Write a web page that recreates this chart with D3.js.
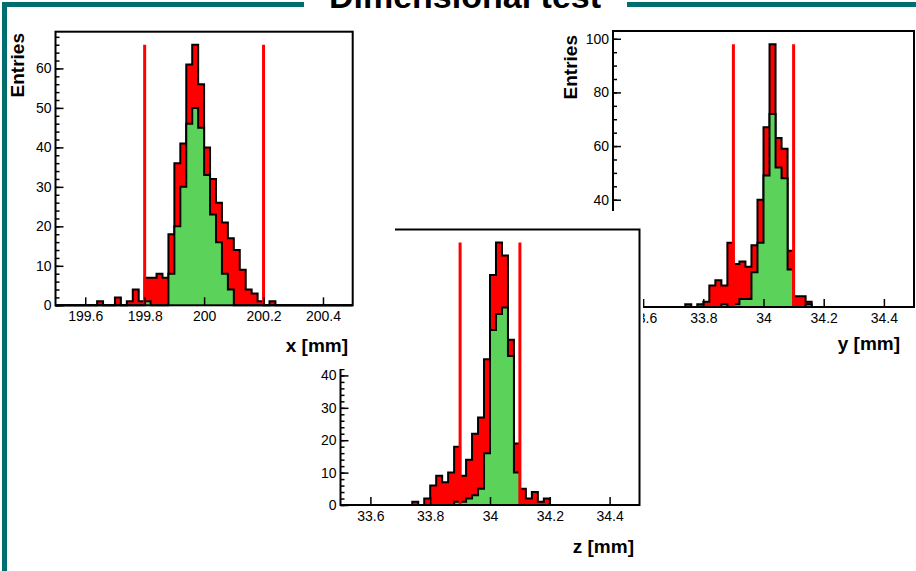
<!DOCTYPE html>
<html><head><meta charset="utf-8">
<script src="https://cdn.jsdelivr.net/npm/d3@7"></script>
<style>
body{margin:0;background:#fff}
text{font-family:"Liberation Sans",Arial,Helvetica,sans-serif}
</style>
</head><body>
<svg id="c" width="916" height="571"></svg>
<script>
// ---------------- data ----------------
const title = "Dimensional test";
const xRange = [199.5, 200.5];
const yRange = [33.5, 34.5];
const zRange = [33.5, 34.5];

// 50 bins each: all measured pieces (red) and pieces passing (green)
const xTotal  = [0,0,0,0,0,0,0,1,0,0, 2,0,1,4,1,7,7,8,7,18, 36,41,61,66,56,40,32,26,21,17, 14,9,4,3,1,0,1,0,0,0, 0,0,0,0,0,0,0,0,0,0];
const xPassed = [0,0,0,0,0,0,0,0,0,0, 0,0,0,0,0,1,0,0,0,8, 20,30,46,50,45,33,23,16,8,4, 0,0,0,0,0,0,0,0,0,0, 0,0,0,0,0,0,0,0,0,0];

const yTotal  = [0,0,0,0,0,0,0,0,0,0, 0,0,1,0,1,2,8,10,8,24, 16,17,15,23,40,67,98,63,59,21, 4,4,2,0,0,0,0,0,0,0, 0,0,0,0,0,0,0,0,0,0];
const yPassed = [0,0,0,0,0,0,0,0,0,0, 0,0,0,0,0,0,0,0,1,0, 1,3,3,13,24,49,72,52,48,14, 0,0,1,0,0,0,0,0,0,0, 0,0,0,0,0,0,0,0,0,0];

const zTotal  = [0,0,0,0,0,0,0,0,0,0, 0,0,1,0,2,6,9,7,10,18, 9,14,22,27,45,71,81,77,51,19, 5,2,4,1,2,0,0,0,0,0, 0,0,0,0,0,0,0,0,0,0];
const zPassed = [0,0,0,0,0,0,0,0,0,0, 0,0,0,0,0,0,0,0,0,1, 1,2,3,5,16,54,59,61,46,10, 0,0,0,0,0,0,0,0,0,0, 0,0,0,0,0,0,0,0,0,0];

const xCuts = [199.8, 200.2];
const yCuts = [33.9, 34.1];
const zCuts = [33.9, 34.1];

const xAxisTicks  = [199.6, 199.8, 200, 200.2, 200.4];
const yzAxisTicks = [33.6, 33.8, 34, 34.2, 34.4];
const xEntryTicks = [0, 10, 20, 30, 40, 50, 60];
const yEntryTicks = [0, 20, 40, 60, 80, 100];
const zEntryTicks = [0, 10, 20, 30, 40, 50, 60, 70, 80];
// labels of the hidden parts of the overlapped pads are not drawn
const yEntryLabelled = [40, 60, 80, 100];
const zEntryLabelled = [0, 10, 20, 30, 40];

const xLabel = "x [mm]", yLabel = "y [mm]", zLabel = "z [mm]", entriesLabel = "Entries";

// ---------------- drawing ----------------
const svg = d3.select("#c");
const TEAL = "#006e6e", RED = "#ff0000", GREEN = "#5bd35b";

svg.append("rect").attr("width", 916).attr("height", 571).attr("fill", "#fff");
// canvas border
svg.append("rect").attr("x", 2).attr("y", 2).attr("width", 5).attr("height", 569).attr("fill", TEAL);
svg.append("rect").attr("x", 2).attr("y", 2).attr("width", 914).attr("height", 5).attr("fill", TEAL);
// title pave
svg.append("rect").attr("x", 304).attr("y", 0).attr("width", 323).attr("height", 10).attr("fill", "#fff");
svg.append("text").attr("x", 465).attr("y", 7.5).attr("text-anchor", "middle")
  .attr("font-size", 34).attr("font-weight", "bold").text(title);

function panel(o) {
  const g = svg.append("g");
  if (o.cover) g.append("rect").attr("x", o.cover[0]).attr("y", o.cover[1])
      .attr("width", o.cover[2] - o.cover[0]).attr("height", o.cover[3] - o.cover[1]).attr("fill", "#fff");
  const x = d3.scaleLinear().domain(o.range).range([o.l, o.r]);
  const maxV = d3.max(o.total);
  const y = d3.scaleLinear().domain([0, maxV * 1.05]).range([o.b, o.t]);
  const n = o.total.length, bw = (o.range[1] - o.range[0]) / n;
  const pts = arr => {
    const p = [[o.range[0], 0]];
    arr.forEach((v, i) => { p.push([o.range[0] + i * bw, v]); p.push([o.range[0] + (i + 1) * bw, v]); });
    p.push([o.range[1], 0]);
    return p;
  };
  const area = d3.area().x(d => x(d[0])).y0(y(0)).y1(d => y(d[1]));
  const line = d3.line().x(d => x(d[0])).y(d => y(d[1]));
  [[o.total, RED], [o.passed, GREEN]].forEach(([arr, col]) => {
    g.append("path").attr("d", area(pts(arr))).attr("fill", col);
    g.append("path").attr("d", line(pts(arr))).attr("fill", "none")
      .attr("stroke", "#000").attr("stroke-width", 2);
  });
  g.selectAll(null).data(o.cuts).enter().append("line")
    .attr("x1", d => x(d)).attr("x2", d => x(d)).attr("y1", y(0)).attr("y2", y(maxV))
    .attr("stroke", RED).attr("stroke-width", 3);

  const fmt = d => String(+d.toFixed(1));
  const lab = o.ylabelled || o.yticks;
  const bx = g.append("g").attr("transform", `translate(0,${o.b})`)
    .call(d3.axisBottom(x).tickValues(o.xticks).tickSize(-8).tickSizeOuter(0).tickPadding(6).tickFormat(fmt));
  const lyMinor = g.append("g").attr("transform", `translate(${o.l},0)`)
    .call(d3.axisLeft(y).tickValues(d3.range(0, maxV * 1.05, o.minorStep)).tickSize(-4).tickSizeOuter(0).tickFormat(""));
  const ly = g.append("g").attr("transform", `translate(${o.l},0)`)
    .call(d3.axisLeft(y).tickValues(o.yticks.filter(v => v <= maxV * 1.05)).tickSize(-8).tickSizeOuter(0).tickPadding(4)
      .tickFormat(d => lab.includes(d) ? fmt(d) : ""));
  [bx, ly, lyMinor].forEach(a => {
    a.select(".domain").remove();
    a.selectAll("line").attr("stroke", "#000").attr("stroke-width", 1.5);
    a.selectAll("text").filter(function () { return this.textContent === ""; }).remove();
    a.selectAll("text").attr("font-size", 14).attr("fill", "#000").attr("font-family", "'Liberation Sans',Arial,sans-serif");
  });
  g.append("rect").attr("x", o.l).attr("y", o.t).attr("width", o.r - o.l).attr("height", o.b - o.t)
    .attr("fill", "none").attr("stroke", "#000").attr("stroke-width", 2);
  g.append("text").attr("x", o.labX).attr("y", o.labY).attr("text-anchor", "end")
    .attr("font-size", 19).attr("font-weight", "bold").text(o.label);
  if (o.entX) g.append("text").attr("transform", `translate(${o.entX},${o.entY}) rotate(-90)`)
    .attr("text-anchor", "end").attr("font-size", 19).attr("font-weight", "bold").text(entriesLabel);
}

// y panel (drawn first, partly hidden)
panel({range: yRange, total: yTotal, passed: yPassed, cuts: yCuts, xticks: yzAxisTicks,
  yticks: yEntryTicks, ylabelled: yEntryLabelled, minorStep: 5, l: 613, r: 914, t: 31, b: 307,
  label: yLabel, labX: 900, labY: 350, entX: 576.5, entY: 35});
// z panel
panel({cover: [270, 211, 643, 571], range: zRange, total: zTotal, passed: zPassed, cuts: zCuts,
  xticks: yzAxisTicks, yticks: zEntryTicks, ylabelled: zEntryLabelled, minorStep: 2, l: 340.5, r: 639.5, t: 229.5, b: 505,
  label: zLabel, labX: 634, labY: 553});
// x panel (on top)
panel({cover: [8, 8, 395, 369], range: xRange, total: xTotal, passed: xPassed, cuts: xCuts,
  xticks: xAxisTicks, yticks: xEntryTicks, minorStep: 2, l: 55.5, r: 352.7, t: 31.7, b: 305.3,
  label: xLabel, labX: 348, labY: 352, entX: 24, entY: 33});
</script>
</body></html>
